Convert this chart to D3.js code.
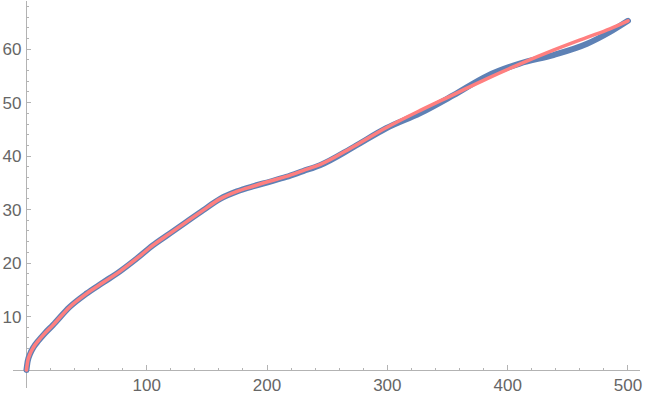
<!DOCTYPE html>
<html>
<head>
<meta charset="utf-8">
<script src="https://cdn.jsdelivr.net/npm/d3@7"></script>
<style>
  body { margin: 0; background: #fff; }
  svg { display: block; }
  .lbl { font-family: "Liberation Sans", Arial, sans-serif; font-size: 17px; fill: #666; }
</style>
</head>
<body>
<div id="chart"></div>
<script>
// measured curve (blue)
const dataX = [0, 1, 3, 6, 10, 15, 22, 36, 50, 64, 78, 92, 105, 119, 133, 147, 161, 175, 189, 202, 216, 230, 244,
  272, 299, 327, 355, 383, 410, 438, 466, 485, 500];
const dataY = [0, 1.6, 3.0, 4.3, 5.5, 6.8, 8.4, 11.8, 14.3, 16.4, 18.5, 20.9, 23.3, 25.5, 27.7, 29.9, 32.0, 33.4, 34.4, 35.2, 36.1, 37.2, 38.3,
  41.7, 45.2, 48.0, 51.4, 55.0, 57.3, 58.9, 61.0, 63.2, 65.3];

// fitted curve (red)
const fitX = [0, 1, 3, 6, 10, 15, 22, 36, 50, 64, 78, 92, 105, 119, 133, 147, 161, 175, 189, 202, 216, 230, 244,
  272, 299, 327, 355, 383, 410, 438, 466, 485, 500];
const fitY = [0, 1.6, 3.0, 4.3, 5.5, 6.8, 8.4, 11.8, 14.3, 16.4, 18.5, 20.9, 23.3, 25.5, 27.7, 29.9, 32.0, 33.4, 34.4, 35.3, 36.2, 37.3, 38.4,
  41.8, 45.3, 48.5, 51.5, 54.5, 57.2, 59.8, 62.2, 63.8, 65.3];

const xMajor = [100, 200, 300, 400, 500];
const yMajor = [10, 20, 30, 40, 50, 60];

const width = 645, height = 397;

let svg = d3.select("#chart").append("svg")
  .attr("width", width)
  .attr("height", height);

let x = d3.scaleLinear()
  .domain([-11, 510])
  .range([13.2, 640]);

let y = d3.scaleLinear()
  .domain([-3.4, 69])
  .range([388.2, 1]);

const axisColor = "#b3b3b3";

// minor ticks every 20 on x, every 2 on y
let xMinor = d3.range(20, 501, 20).filter(v => v % 100 !== 0);
let yMinor = d3.range(2, 69, 2).filter(v => v % 10 !== 0);

let axes = svg.append("g").attr("stroke", axisColor).attr("stroke-width", 1).attr("shape-rendering", "crispEdges");

axes.append("line")
  .attr("x1", x(-11)).attr("x2", x(510))
  .attr("y1", y(0)).attr("y2", y(0));
axes.append("line")
  .attr("x1", x(0)).attr("x2", x(0))
  .attr("y1", y(-3.4)).attr("y2", y(69));

axes.selectAll(".xmaj").data(xMajor).enter().append("line")
  .attr("x1", d => x(d)).attr("x2", d => x(d))
  .attr("y1", y(0)).attr("y2", y(0) - 5);
axes.selectAll(".xmin").data(xMinor).enter().append("line")
  .attr("x1", d => x(d)).attr("x2", d => x(d))
  .attr("y1", y(0)).attr("y2", y(0) - 2.5);
axes.selectAll(".ymaj").data(yMajor).enter().append("line")
  .attr("x1", x(0)).attr("x2", x(0) + 5)
  .attr("y1", d => y(d)).attr("y2", d => y(d));
axes.selectAll(".ymin").data(yMinor).enter().append("line")
  .attr("x1", x(0)).attr("x2", x(0) + 2.5)
  .attr("y1", d => y(d)).attr("y2", d => y(d));

svg.selectAll(".xl").data(xMajor).enter().append("text")
  .attr("class", "lbl")
  .attr("x", d => x(d))
  .attr("y", y(0) + 21)
  .attr("text-anchor", "middle")
  .text(d => d);

svg.selectAll(".yl").data(yMajor).enter().append("text")
  .attr("class", "lbl")
  .attr("x", x(0) - 5)
  .attr("y", d => y(d) + 6)
  .attr("text-anchor", "end")
  .text(d => d);

let line = d3.line()
  .x(d => x(d[0]))
  .y(d => y(d[1]))
  .curve(d3.curveMonotoneX);

svg.append("path")
  .datum(dataX.map((v, i) => [v, dataY[i]]))
  .attr("d", line)
  .attr("fill", "none")
  .attr("stroke", "#5e81b5")
  .attr("stroke-width", 6)
  .attr("stroke-linecap", "round")
  .attr("stroke-linejoin", "round");

svg.append("path")
  .datum(fitX.map((v, i) => [v, fitY[i]]))
  .attr("d", line)
  .attr("fill", "none")
  .attr("stroke", "#ff7f7f")
  .attr("stroke-width", 3.5)
  .attr("stroke-linecap", "round")
  .attr("stroke-linejoin", "round");
</script>
</body>
</html>
